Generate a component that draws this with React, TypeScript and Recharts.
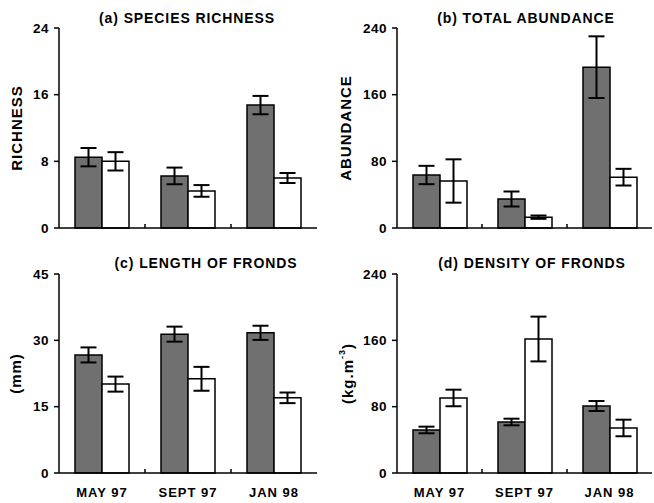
import React from 'react'
import { BarChart, Bar, XAxis, YAxis, ErrorBar } from 'recharts'

const months = ['MAY 97', 'SEPT 97', 'JAN 98']

const richnessGray = [8.5, 6.25, 14.75]
const richnessGrayErr = [1.1, 1.0, 1.1]
const richnessWhite = [8.0, 4.45, 6.0]
const richnessWhiteErr = [1.1, 0.7, 0.6]

const abundanceGray = [63.6, 34.8, 193]
const abundanceGrayErr = [11, 9, 37]
const abundanceWhite = [56.4, 13, 61]
const abundanceWhiteErr = [26, 2, 10]

const lengthGray = [26.7, 31.4, 31.7]
const lengthGrayErr = [1.7, 1.7, 1.6]
const lengthWhite = [20.1, 21.3, 17.0]
const lengthWhiteErr = [1.7, 2.7, 1.2]

const densityGray = [51.9, 61.5, 80.8]
const densityGrayErr = [4, 4, 6]
const densityWhite = [90.5, 161.6, 54.3]
const densityWhiteErr = [10, 27, 10]

const richnessTicks = [0, 8, 16, 24]
const abundanceTicks = [0, 80, 160, 240]
const lengthTicks = [0, 15, 30, 45]
const densityTicks = [0, 80, 160, 240]

const FONT = '"Liberation Sans", Arial, sans-serif'
const GRAY = '#707070'
const LABEL_GAP = 15

function buildRows(gray: number[], grayErr: number[], white: number[], whiteErr: number[]) {
  return months.map((m, i) => ({
    month: m,
    gray: gray[i],
    grayErr: grayErr[i],
    white: white[i],
    whiteErr: whiteErr[i],
  }))
}

// month label plus a short upward tick at the right edge of each band (not the last)
function makeMonthTick(showLabel: boolean) {
  return (props: any) => {
    const { x, y, payload, index, visibleTicksCount } = props
    const axisY = y - LABEL_GAP
    const edge = x + (payload.offset || 0)
    return (
      <g>
        {index < visibleTicksCount - 1 && (
          <line x1={edge} x2={edge} y1={axisY} y2={axisY - 4} stroke="#000" strokeWidth={1.5} />
        )}
        {showLabel && (
          <text
            x={x}
            y={y}
            dy="0.71em"
            textAnchor="middle"
            fill="#000"
            fontSize={13}
            fontWeight={700}
            fontFamily={FONT}
            letterSpacing={1}
          >
            {payload.value}
          </text>
        )}
      </g>
    )
  }
}

type PanelProps = {
  left: number
  top: number
  height: number
  yAxisWidth: number
  marginTop: number
  marginRight: number
  marginBottom: number
  showMonths: boolean
  ticks: number[]
  yLabel: React.ReactNode
  yLabelX: number
  title: string
  titleX: number
  titleY: number
  rows: ReturnType<typeof buildRows>
}

function Panel(p: PanelProps) {
  const width = 327
  const axisHeight = p.showMonths ? 30 : 1
  const plotTop = p.marginTop
  const plotBottom = p.height - p.marginBottom - axisHeight
  const yMid = (plotTop + plotBottom) / 2
  return (
    <div style={{ position: 'absolute', left: p.left, top: p.top, width, height: p.height }}>
      <BarChart
        width={width}
        height={p.height}
        data={p.rows}
        margin={{ top: p.marginTop, right: p.marginRight, left: 0, bottom: p.marginBottom }}
        barSize={27}
        barGap={0}
      >
        <XAxis
          dataKey="month"
          height={axisHeight}
          axisLine={{ stroke: '#000', strokeWidth: 1.5 }}
          tickLine={false}
          tickSize={0}
          tickMargin={LABEL_GAP}
          interval={0}
          tick={makeMonthTick(p.showMonths)}
        />
        <YAxis
          width={p.yAxisWidth}
          domain={[p.ticks[0], p.ticks[p.ticks.length - 1]]}
          ticks={p.ticks}
          interval={0}
          tickSize={5}
          tickMargin={5}
          axisLine={{ stroke: '#000', strokeWidth: 1.5 }}
          tickLine={{ stroke: '#000', strokeWidth: 1.5 }}
          tick={{ fill: '#000', fontSize: 13.5, fontWeight: 700, fontFamily: FONT, letterSpacing: 0.5 }}
        />
        <Bar dataKey="gray" fill={GRAY} stroke="#000" strokeWidth={1.5} isAnimationActive={false}>
          <ErrorBar dataKey="grayErr" width={8} stroke="#000" strokeWidth={2} />
        </Bar>
        <Bar dataKey="white" fill="#fff" stroke="#000" strokeWidth={1.5} isAnimationActive={false}>
          <ErrorBar dataKey="whiteErr" width={8} stroke="#000" strokeWidth={2} />
        </Bar>
      </BarChart>
      <svg
        width={width}
        height={p.height}
        style={{ position: 'absolute', left: 0, top: 0, pointerEvents: 'none' }}
      >
        <text
          x={p.titleX}
          y={p.titleY}
          textAnchor="middle"
          dominantBaseline="central"
          fontFamily={FONT}
          fontWeight={700}
          fontSize={14}
          letterSpacing={0.9}
          fill="#000"
        >
          {p.title}
        </text>
        <text
          transform={`translate(${p.yLabelX},${yMid}) rotate(-90)`}
          textAnchor="middle"
          dominantBaseline="central"
          fontFamily={FONT}
          fontWeight={700}
          fontSize={15}
          letterSpacing={1}
          fill="#000"
        >
          {p.yLabel}
        </text>
      </svg>
    </div>
  )
}

export default function App() {
  return (
    <div
      style={{
        position: 'absolute',
        left: 0,
        top: 0,
        width: 654,
        height: 503,
        background: '#fff',
        overflow: 'hidden',
      }}
    >
      <Panel
        left={0}
        top={0}
        height={250}
        yAxisWidth={59}
        marginTop={28}
        marginRight={10}
        marginBottom={21}
        showMonths={false}
        ticks={richnessTicks}
        yLabel="RICHNESS"
        yLabelX={16}
        title="(a) SPECIES RICHNESS"
        titleX={187}
        titleY={18}
        rows={buildRows(richnessGray, richnessGrayErr, richnessWhite, richnessWhiteErr)}
      />
      <Panel
        left={327}
        top={0}
        height={250}
        yAxisWidth={70}
        marginTop={28}
        marginRight={2}
        marginBottom={21}
        showMonths={false}
        ticks={abundanceTicks}
        yLabel="ABUNDANCE"
        yLabelX={18}
        title="(b) TOTAL ABUNDANCE"
        titleX={199}
        titleY={18}
        rows={buildRows(abundanceGray, abundanceGrayErr, abundanceWhite, abundanceWhiteErr)}
      />
      <Panel
        left={0}
        top={250}
        height={253}
        yAxisWidth={59}
        marginTop={24}
        marginRight={10}
        marginBottom={0}
        showMonths
        ticks={lengthTicks}
        yLabel="(mm)"
        yLabelX={15}
        title="(c) LENGTH OF FRONDS"
        titleX={206}
        titleY={13}
        rows={buildRows(lengthGray, lengthGrayErr, lengthWhite, lengthWhiteErr)}
      />
      <Panel
        left={327}
        top={250}
        height={253}
        yAxisWidth={70}
        marginTop={24}
        marginRight={2}
        marginBottom={0}
        showMonths
        ticks={densityTicks}
        yLabel={
          <>
            (kg.m
            <tspan baselineShift="super" fontSize={9}>
              -3
            </tspan>
            )
          </>
        }
        yLabelX={20}
        title="(d) DENSITY OF FRONDS"
        titleX={205}
        titleY={13}
        rows={buildRows(densityGray, densityGrayErr, densityWhite, densityWhiteErr)}
      />
    </div>
  )
}
